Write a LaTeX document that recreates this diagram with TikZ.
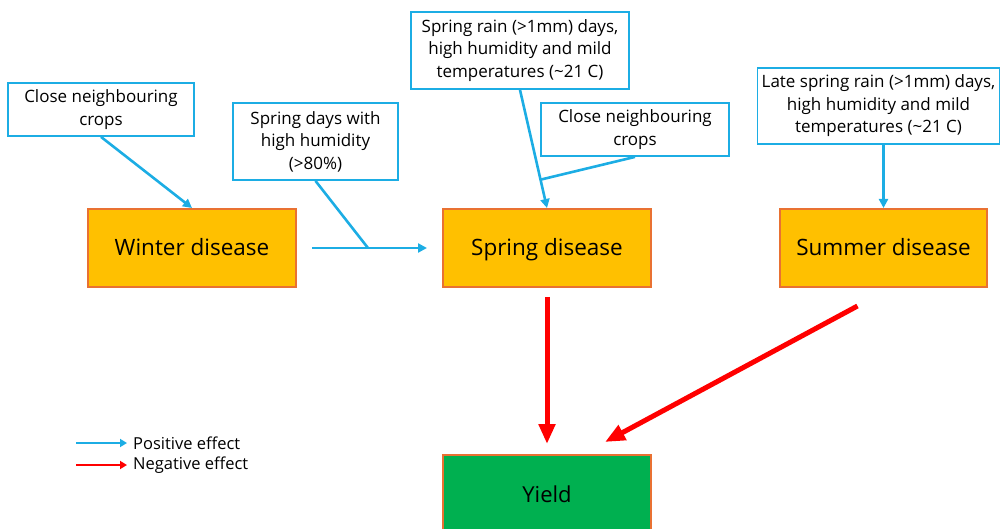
\documentclass[tikz,border=0pt]{standalone}
\usepackage{fontspec}
\setmainfont{Open Sans}
\usetikzlibrary{arrows.meta,calc}
\definecolor{cblue}{HTML}{1CADE4}
\definecolor{dorange}{HTML}{FFC000}
\definecolor{dborder}{HTML}{E97132}
\definecolor{ygreen}{HTML}{00B050}
\definecolor{nred}{HTML}{FF0000}
\begin{document}
\begin{tikzpicture}[x=1pt,y=-1pt,
  cause/.style={draw=cblue, line width=1.8pt, fill=white, align=center, inner sep=0pt,
    font=\fontsize{17}{22.5}\selectfont},
  disease/.style={draw=dborder, line width=2pt, fill=dorange, inner sep=0pt,
    minimum width=208pt, minimum height=78pt, font=\fontsize{22.5}{27}\selectfont,
    text height=16pt, text depth=0pt},
  posarrow/.style={draw=cblue, line width=2.6pt, -{Triangle[length=9pt,width=9pt]}},
  posline/.style={draw=cblue, line width=2.6pt},
  negarrow/.style={draw=nred, line width=5pt, -{Triangle[length=20pt,width=16pt]}},
  legtext/.style={anchor=west, inner sep=0pt, font=\fontsize{16.5}{19}\selectfont}
]
\useasboundingbox (0,0) rectangle (1001,529);
\clip (0,0) rectangle (1001,529);
% cause boxes
\node[cause, minimum width=186pt, minimum height=53pt] (cn1) at (101,109.5) {Close neighbouring\\crops};
\node[cause, minimum width=165pt, minimum height=77pt] (shd) at (315.5,141.5) {Spring days with\\high humidity\\(>80\%)};
\node[cause, minimum width=218pt, minimum height=77pt] (srn) at (520,50.5) {Spring rain (>1mm) days,\\high humidity and mild\\temperatures (\textasciitilde21 C)};
\node[cause, minimum width=188pt, minimum height=53pt] (cn2) at (635,129.5) {Close neighbouring\\crops};
\node[cause, minimum width=242pt, minimum height=76pt] (lsr) at (878.5,106) {Late spring rain (>1mm) days,\\high humidity and mild\\temperatures (\textasciitilde21 C)};
% disease boxes
\node[disease] (wd) at (192,248) {Winter disease};
\node[disease] (spd) at (547,248) {Spring disease};
\node[disease, minimum width=207pt] (smd) at (883.5,248) {Summer disease};
\node[disease, draw=dborder, fill=ygreen, font=\fontsize{22}{26}\selectfont] (yd) at (547,494) {Yield};
% positive connectors
\draw[posarrow] (cn1.south) -- (wd.north);
\coordinate (hs) at ($(wd.east)+(15,0)$);
\coordinate (he) at ($(spd.west)+(-15,0)$);
\coordinate (j1) at (368,248);
\draw[posarrow] (hs) -- (he);
\draw[posline] (shd.south) -- (j1);
\coordinate (j2) at ($(srn.south)!0.76!(spd.north)$);
\draw[posarrow] (srn.south) -- (spd.north);
\draw[posline] (cn2.south) -- (j2);
\draw[posarrow] (smd.north |- lsr.south) -- (smd.north);
% negative connectors
\coordinate (n1s) at ($(spd.south)+(0,9)$);
\coordinate (n1e) at ($(yd.north)+(0,-10)$);
\draw[negarrow] (n1s) -- (n1e);
\coordinate (n2s) at ($(smd.south)+(-26,18)$);
\coordinate (n2e) at ($(yd.north)+(58,-12)$);
\draw[negarrow] (n2s) -- (n2e);
% legend
\coordinate (lp1) at (76,443);
\coordinate (lp2) at (127,443);
\coordinate (ln1) at (76,465);
\coordinate (ln2) at (127,465);
\draw[draw=cblue, line width=2.6pt, -{Triangle[length=7pt,width=8pt]}] (lp1) -- (lp2);
\draw[draw=nred, line width=2.6pt, -{Triangle[length=7pt,width=8pt]}] (ln1) -- (ln2);
\node[legtext] (lpt) at (133,443) {Positive effect};
\node[legtext] (lnt) at (133,465) {Negative effect};
\end{tikzpicture}
\end{document}
